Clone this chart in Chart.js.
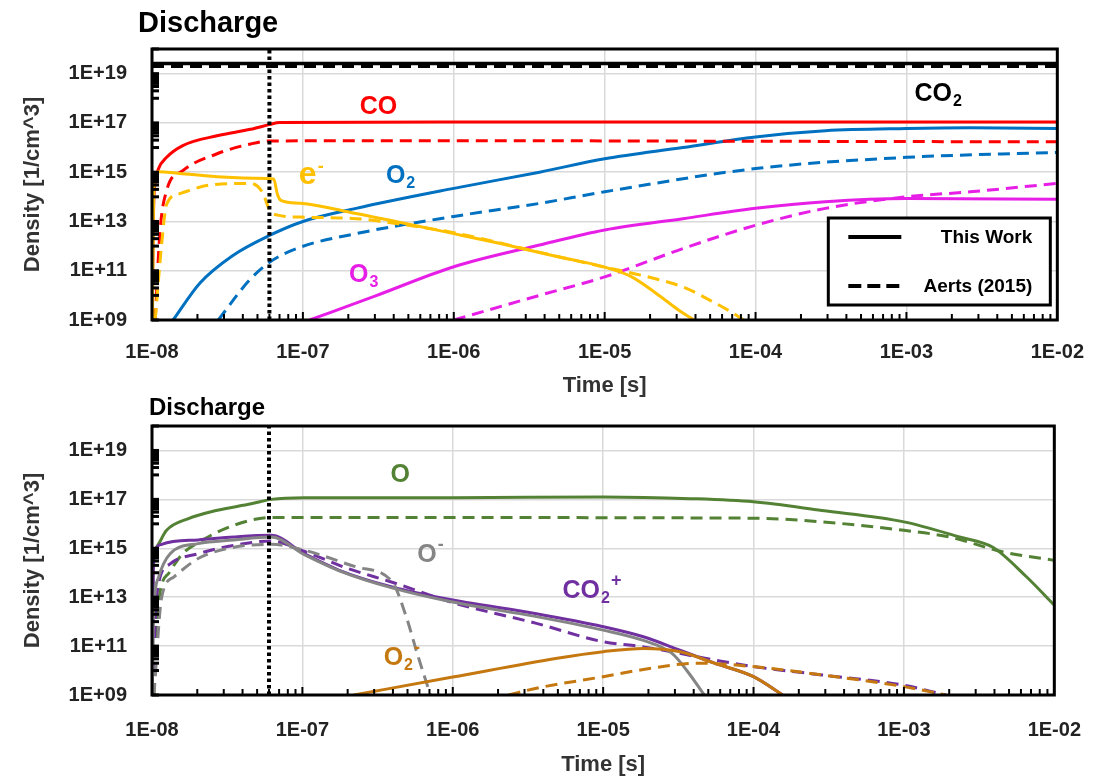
<!DOCTYPE html>
<html>
<head>
<meta charset="utf-8">
<title>Species densities</title>
<script src="https://cdn.jsdelivr.net/npm/chart.js@4.4.1/dist/chart.umd.min.js"></script>
<style>
  body { margin: 0; background: #fff; }
  #page { position: relative; width: 1104px; height: 778px; overflow: hidden; }
  #topWrap { position: absolute; left: 0; top: 0; width: 1104px; height: 400px; }
  #botWrap { position: absolute; left: 0; top: 388px; width: 1104px; height: 390px; }
</style>
</head>
<body>
<div id="page">
  <div id="topWrap"><canvas id="topChart" width="1104" height="400"></canvas></div>
  <div id="botWrap"><canvas id="botChart" width="1104" height="390"></canvas></div>
</div>
<script>
// axes
const xTicks = [1e-8, 1e-7, 1e-6, 1e-5, 1e-4, 1e-3, 1e-2];
const yTicks = [1e9, 1e11, 1e13, 1e15, 1e17, 1e19];
const yMin = 1e9, yMax = 1e20;
const dischargeEnd = 6e-8;
const legendLabels = ['This Work', 'Aerts (2015)'];

// ---- top panel: neutrals and electrons (This Work = solid, Aerts = dashed) ----
const co2T = [1e-8, 1e-2];
const co2This = [2.6e19, 2.6e19];
const co2Aerts = [2.0e19, 2.0e19];

const coThisT = [1.004e-8, 1.015e-8, 1.03e-8, 1.06e-8, 1.1e-8, 1.25e-8, 1.6e-8, 2.7e-8, 4.5e-8, 6e-8, 7e-8, 1e-6, 1e-4, 1e-2];
const coThisN = [1e9, 1e12, 1e14, 5e14, 1.3e15, 4e15, 1.2e16, 3e16, 5.5e16, 8.5e16, 1.05e17, 1.1e17, 1.1e17, 1.1e17];
const coAertsT = [1.05e-8, 1.13e-8, 1.25e-8, 1.6e-8, 2.7e-8, 4.5e-8, 6e-8, 1e-6, 1e-4, 1e-2];
const coAertsN = [1e9, 4e12, 1.8e14, 1.15e15, 5.6e15, 1.4e16, 1.85e16, 1.9e16, 1.8e16, 1.7e16];

const eThisT = [1.008e-8, 1.02e-8, 1.04e-8, 1.1e-8, 1.25e-8, 2.7e-8, 5.8e-8, 6.4e-8, 6.8e-8, 7.2e-8, 9.6e-8, 2.25e-7, 1e-6, 2e-6, 4.9e-6, 1e-5, 1.5e-5, 2.2e-5, 3.1e-5, 3.9e-5];
const eThisN = [1e9, 1e13, 6e14, 1.05e15, 1e15, 6.5e14, 5.5e14, 5.3e14, 1.2e14, 7e13, 5.5e13, 2.1e13, 3.2e12, 1.3e12, 3.7e11, 1.4e11, 5.8e10, 1.2e10, 2.5e9, 1e9];
const eAertsT = [1.05e-8, 1.16e-8, 1.25e-8, 1.53e-8, 2.4e-8, 4.5e-8, 5.4e-8, 6e-8, 6.8e-8, 9.6e-8, 2.25e-7, 5e-7, 1e-6, 4e-6, 1e-5, 1.9e-5, 3.3e-5, 5e-5, 7.1e-5, 8.3e-5];
const eAertsN = [1e9, 1.3e12, 5e13, 1.35e14, 3e14, 3.5e14, 1.5e14, 3e13, 1.8e13, 1.5e13, 1.3e13, 7e12, 3.5e12, 5e11, 1.4e11, 5.8e10, 2.2e10, 6.3e9, 1.9e9, 1e9];

const o2ThisT = [1.38e-8, 2.08e-8, 3.4e-8, 6e-8, 1e-7, 2.25e-7, 1e-6, 3.7e-6, 1e-5, 3.3e-5, 1e-4, 2.9e-4, 1e-3, 2.65e-3, 1e-2];
const o2ThisN = [1e9, 3.2e10, 4e11, 2.7e12, 1e13, 3.4e13, 2.2e14, 1e15, 3.5e15, 1e16, 2.7e16, 4.8e16, 5.9e16, 6.3e16, 5.9e16];
const o2AertsT = [2.75e-8, 4.4e-8, 6e-8, 9.6e-8, 2.25e-7, 1e-6, 3.7e-6, 1e-5, 1e-4, 1e-3, 1e-2];
const o2AertsN = [1e9, 4e10, 2.2e11, 9e11, 3.2e12, 1.6e13, 5.4e13, 1.6e14, 1.4e15, 4e15, 6.3e15];

const o3ThisT = [1.11e-7, 3e-7, 1e-6, 3.7e-6, 1e-5, 3.3e-5, 1e-4, 2.9e-4, 1e-3, 1e-2];
const o3ThisN = [1e9, 9.3e9, 1.45e11, 1.1e12, 4.5e12, 1.3e13, 3.4e13, 6.3e13, 8.5e13, 8e13];
const o3AertsT = [1e-6, 3.7e-6, 1e-5, 3.3e-5, 1e-4, 2.9e-4, 1e-3, 2.65e-3, 1e-2];
const o3AertsN = [1e9, 1e10, 5.6e10, 7.9e11, 7e12, 3.4e13, 1e14, 1.6e14, 3.5e14];

// ---- bottom panel: O and ions ----
const oThisT = [1.005e-8, 1.02e-8, 1.07e-8, 1.25e-8, 1.73e-8, 2.67e-8, 4.57e-8, 6.2e-8, 1.03e-7, 1e-6, 1e-5, 3.8e-5, 1e-4, 2.85e-4, 1e-3, 2.34e-3, 3.9e-3, 6.5e-3, 1e-2];
const oThisN = [1e12, 3e14, 1.1e15, 5.4e15, 1.6e16, 3.5e16, 6.6e16, 1e17, 1.17e17, 1.17e17, 1.26e17, 1.07e17, 7.9e16, 3.5e16, 1.2e16, 2.9e15, 1.1e15, 7e13, 4.7e12];
const oAertsT = [1.03e-8, 1.1e-8, 1.3e-8, 1.6e-8, 2.15e-8, 3.5e-8, 6.2e-8, 1e-6, 1e-4, 2.85e-4, 1e-3, 2e-3, 4.6e-3, 1e-2];
const oAertsN = [1e9, 5e12, 1e14, 6e14, 2.1e15, 8.7e15, 1.8e16, 1.8e16, 1.7e16, 1.2e16, 5.4e15, 2.9e15, 7e14, 3.2e14];

const co2pThisT = [1.005e-8, 1.02e-8, 1.05e-8, 1.16e-8, 2.03e-8, 3.5e-8, 6.2e-8, 1.03e-7, 1.76e-7, 3.95e-7, 1e-6, 3.6e-6, 1e-5, 1.85e-5, 3.2e-5, 5.5e-5, 1e-4, 1.56e-4];
const co2pThisN = [1e9, 1e14, 8e14, 1.45e15, 2.2e15, 2.9e15, 3.4e15, 6e14, 1.26e14, 2.6e13, 7.6e12, 2.1e12, 6.2e11, 2.4e11, 7e10, 2e10, 5.6e9, 1e9];
const co2pAertsT = [1.02e-8, 1.05e-8, 1.1e-8, 1.32e-8, 2.03e-8, 3.5e-8, 6.2e-8, 1e-7, 2e-7, 4e-7, 1e-6, 3.6e-6, 1e-5, 1.85e-5, 5.5e-5, 1e-4, 2.85e-4, 1e-3, 1.9e-3];
const co2pAertsN = [1e9, 1e12, 3e13, 2.3e14, 6e14, 1.3e15, 2e15, 8e14, 1.5e14, 4e13, 6e12, 8.5e11, 1.5e11, 9.3e10, 2.7e10, 1.45e10, 6.6e9, 2.5e9, 1e9];

const oMinusThisT = [1.005e-8, 1.02e-8, 1.1e-8, 1.32e-8, 2.03e-8, 3.5e-8, 6.2e-8, 1.03e-7, 1.76e-7, 3.95e-7, 1e-6, 3.6e-6, 1e-5, 1.85e-5, 2.87e-5, 3.6e-5, 4.7e-5];
const oMinusThisN = [1e9, 1e12, 6e13, 6e14, 1.55e15, 2.2e15, 2.9e15, 5.5e14, 1.2e14, 2.4e13, 6.3e12, 1.6e12, 4.5e11, 1.7e11, 5e10, 1e10, 1e9];
const oMinusAertsT = [1.03e-8, 1.16e-8, 1.4e-8, 2.03e-8, 3.5e-8, 6.2e-8, 1.03e-7, 2.3e-7, 3.95e-7, 4.9e-7, 5.8e-7, 7.1e-7];
const oMinusAertsN = [1e9, 1e13, 6.8e13, 3.8e14, 1.1e15, 1.45e15, 8.3e14, 1.7e14, 4.3e13, 1.6e12, 5e10, 1e9];

const o2mThisT = [2.2e-7, 1e-6, 4.95e-6, 1e-5, 1.85e-5, 3.2e-5, 5.5e-5, 1e-4, 1.56e-4];
const o2mThisN = [1e9, 5.4e9, 3.2e10, 5.9e10, 8e10, 6e10, 2e10, 5.6e9, 1e9];
const o2mAertsT = [2.35e-6, 3.6e-6, 1e-5, 1.85e-5, 4.2e-5, 1e-4, 2.85e-4, 1e-3, 1.9e-3];
const o2mAertsN = [1e9, 1.9e9, 5.6e9, 1.1e10, 2e10, 1.45e10, 6.6e9, 2.2e9, 1e9];

const FONT = '"Liberation Sans", Arial, sans-serif';

function pts(ts, ns) {
    return ts.map((t, i) => ({ x: t, y: ns[i] }));
}

function series(label, ts, ns, color, dashed, width) {
    return {
        label: label,
        data: pts(ts, ns),
        borderColor: color,
        backgroundColor: color,
        borderWidth: width || 3,
        borderDash: dashed ? [12, 7] : [],
        pointRadius: 0,
        cubicInterpolationMode: 'monotone',
        fill: false
    };
}

function dischargeLine() {
    return {
        label: 'Discharge',
        data: pts([dischargeEnd, dischargeEnd], [yMin, yMax]),
        borderColor: '#000',
        borderWidth: 4,
        borderDash: [3.5, 3],
        pointRadius: 0,
        tension: 0,
        fill: false
    };
}

function expLabel(v) {
    const e = Math.round(Math.log10(v));
    return '1E' + (e < 0 ? '-' : '+') + String(Math.abs(e)).padStart(2, '0');
}

// frame, inside tick marks, heading, species labels and the legend box
const decor = {
    id: 'decor',
    afterDatasetsDraw(chart, args, opts) {
        const ctx = chart.ctx, a = chart.chartArea;
        const xs = chart.scales.x, ys = chart.scales.y;
        ctx.save();
        ctx.strokeStyle = '#000';

        ctx.lineWidth = 2;
        for (let d = -8; d < -2; d++) {
            for (let k = 1; k <= 9; k++) {
                const px = xs.getPixelForValue(k * Math.pow(10, d));
                ctx.beginPath();
                ctx.moveTo(px, a.bottom);
                ctx.lineTo(px, a.bottom - (k === 1 ? 8 : 6));
                ctx.stroke();
            }
        }
        ctx.lineWidth = 3;
        yTicks.forEach(m => {
            [1, 10, 20, 30, 40, 50, 60, 70, 80, 90].forEach(k => {
                const v = m * k;
                if (v > yMax) return;
                const py = ys.getPixelForValue(v);
                ctx.beginPath();
                ctx.moveTo(a.left, py);
                ctx.lineTo(a.left + 7, py);
                ctx.stroke();
            });
        });

        ctx.lineWidth = 3;
        ctx.strokeRect(a.left, a.top, a.right - a.left, a.bottom - a.top);

        if (opts.heading) {
            const h = opts.heading;
            ctx.fillStyle = '#000';
            ctx.textAlign = 'left';
            ctx.textBaseline = 'alphabetic';
            ctx.font = 'bold ' + h.size + 'px ' + FONT;
            ctx.fillText(h.text, a.left + h.dx, a.top + h.dy);
        }

        (opts.labels || []).forEach(l => {
            const px = xs.getPixelForValue(l.t), py = ys.getPixelForValue(l.n);
            ctx.fillStyle = l.color;
            ctx.textAlign = 'left';
            ctx.textBaseline = 'alphabetic';
            ctx.font = 'bold ' + (l.size || 25) + 'px ' + FONT;
            ctx.fillText(l.text, px, py);
            let w = ctx.measureText(l.text).width + 1;
            ctx.font = 'bold 16px ' + FONT;
            if (l.sub) {
                ctx.fillText(l.sub, px + w, py + 5);
                w += ctx.measureText(l.sub).width + 1;
            }
            if (l.sup) {
                ctx.font = 'bold 18px ' + FONT;
                ctx.fillText(l.sup, px + w, py - 12);
            }
        });

        const lg = opts.legend;
        if (lg) {
            const L = a.right - lg.right - lg.width, T = a.bottom - lg.bottom - lg.height;
            ctx.fillStyle = '#fff';
            ctx.fillRect(L, T, lg.width, lg.height);
            ctx.lineWidth = 3;
            ctx.strokeRect(L, T, lg.width, lg.height);
            legendLabels.forEach((text, i) => {
                const y = T + lg.rows[i];
                ctx.lineWidth = 4;
                ctx.setLineDash(i === 0 ? [] : [13, 6]);
                ctx.beginPath();
                ctx.moveTo(L + 20, y);
                ctx.lineTo(L + 73, y);
                ctx.stroke();
                ctx.setLineDash([]);
                ctx.fillStyle = '#000';
                ctx.textAlign = 'right';
                ctx.textBaseline = 'middle';
                ctx.font = 'bold 19px ' + FONT;
                ctx.fillText(text, L + lg.width - 18, y + 1);
            });
        }
        ctx.restore();
    }
};

function makeChart(id, datasets, cfg) {
    return new Chart(document.getElementById(id), {
        type: 'line',
        data: { datasets: datasets },
        options: {
            responsive: false,
            animation: false,
            events: [],
            layout: { padding: cfg.padding },
            plugins: {
                legend: { display: false },
                tooltip: { enabled: false },
                decor: cfg.decor
            },
            scales: {
                x: {
                    type: 'logarithmic',
                    min: 1e-8,
                    max: 1e-2,
                    afterBuildTicks: s => { s.ticks = xTicks.map(v => ({ value: v })); },
                    afterFit: s => { s.height = cfg.xHeight; },
                    border: { display: false },
                    grid: { color: '#d9d9d9', lineWidth: 1.5, drawTicks: false },
                    ticks: {
                        callback: v => expLabel(v),
                        color: '#222',
                        font: { family: FONT, size: 20, weight: 'bold' },
                        padding: cfg.xPad,
                        maxRotation: 0,
                        autoSkip: false
                    },
                    title: {
                        display: true,
                        text: 'Time [s]',
                        color: '#333',
                        font: { family: FONT, size: 22, weight: 'bold', lineHeight: 1.2 },
                        padding: { top: 0, bottom: cfg.xTitlePad }
                    }
                },
                y: {
                    type: 'logarithmic',
                    min: yMin,
                    max: yMax,
                    afterBuildTicks: s => { s.ticks = yTicks.map(v => ({ value: v })); },
                    afterFit: s => { s.width = 152; },
                    border: { display: false },
                    grid: { color: '#d9d9d9', lineWidth: 1.5, drawTicks: false },
                    ticks: {
                        callback: v => expLabel(v),
                        color: '#222',
                        font: { family: FONT, size: 20, weight: 'bold' },
                        padding: 25,
                        autoSkip: false
                    },
                    title: {
                        display: true,
                        text: 'Density [1/cm^3]',
                        color: '#333',
                        font: { family: FONT, size: 22, weight: 'bold', lineHeight: 1.2 },
                        padding: { top: 20, bottom: 0 }
                    }
                }
            }
        },
        plugins: [decor]
    });
}

const RED = '#ff0000', YELLOW = '#ffc000', BLUE = '#0070c0', MAGENTA = '#e61ee6';
const GREEN = '#548235', GRAY = '#858585', PURPLE = '#7030a0', ORANGE = '#c5780f';

makeChart('topChart', [
    dischargeLine(),
    series('CO2', co2T, co2This, '#000', false, 3.5),
    series('CO2 (Aerts)', co2T, co2Aerts, '#000', true, 3.5),
    series('e-', eThisT, eThisN, YELLOW, false),
    series('e- (Aerts)', eAertsT, eAertsN, YELLOW, true),
    series('CO', coThisT, coThisN, RED, false),
    series('CO (Aerts)', coAertsT, coAertsN, RED, true),
    series('O2', o2ThisT, o2ThisN, BLUE, false),
    series('O2 (Aerts)', o2AertsT, o2AertsN, BLUE, true),
    series('O3', o3ThisT, o3ThisN, MAGENTA, false),
    series('O3 (Aerts)', o3AertsT, o3AertsN, MAGENTA, true)
], {
    padding: { top: 49, right: 46, bottom: 0, left: 0 },
    xHeight: 80,
    xPad: 20,
    xTitlePad: 1,
    decor: {
        heading: { text: 'Discharge', size: 29, dx: -14, dy: -17 },
        labels: [
            { text: 'CO', t: 2.38e-7, n: 2.3e17, color: RED },
            { text: 'e', sup: '-', t: 9.4e-8, n: 3.4e14, color: YELLOW, size: 32 },
            { text: 'O', sub: '2', t: 3.55e-7, n: 3.8e14, color: BLUE },
            { text: 'O', sub: '3', t: 2.02e-7, n: 3.4e10, color: MAGENTA },
            { text: 'CO', sub: '2', t: 1.13e-3, n: 7.8e17, color: '#000' }
        ],
        legend: { width: 222, height: 87, right: 7, bottom: 15, rows: [19, 68] }
    }
});

makeChart('botChart', [
    dischargeLine(),
    series('O2-', o2mThisT, o2mThisN, ORANGE, false),
    series('O2- (Aerts)', o2mAertsT, o2mAertsN, ORANGE, true),
    series('O-', oMinusThisT, oMinusThisN, GRAY, false),
    series('O- (Aerts)', oMinusAertsT, oMinusAertsN, GRAY, true),
    series('CO2+', co2pThisT, co2pThisN, PURPLE, false),
    series('CO2+ (Aerts)', co2pAertsT, co2pAertsN, PURPLE, true),
    series('O', oThisT, oThisN, GREEN, false),
    series('O (Aerts)', oAertsT, oAertsN, GREEN, true)
], {
    padding: { top: 38, right: 44, bottom: 0, left: 0 },
    xHeight: 83,
    xPad: 23,
    xTitlePad: 0,
    decor: {
        heading: { text: 'Discharge', size: 24, dx: -3, dy: -11 },
        labels: [
            { text: 'O', t: 3.85e-7, n: 4.9e17, color: GREEN },
            { text: 'O', sup: '-', t: 5.8e-7, n: 2.7e14, color: GRAY },
            { text: 'CO', sub: '2', sup: '+', t: 5.37e-6, n: 9.1e12, color: PURPLE },
            { text: 'O', sub: '2', sup: '-', t: 3.47e-7, n: 1.7e10, color: ORANGE }
        ]
    }
});
</script>
</body>
</html>
